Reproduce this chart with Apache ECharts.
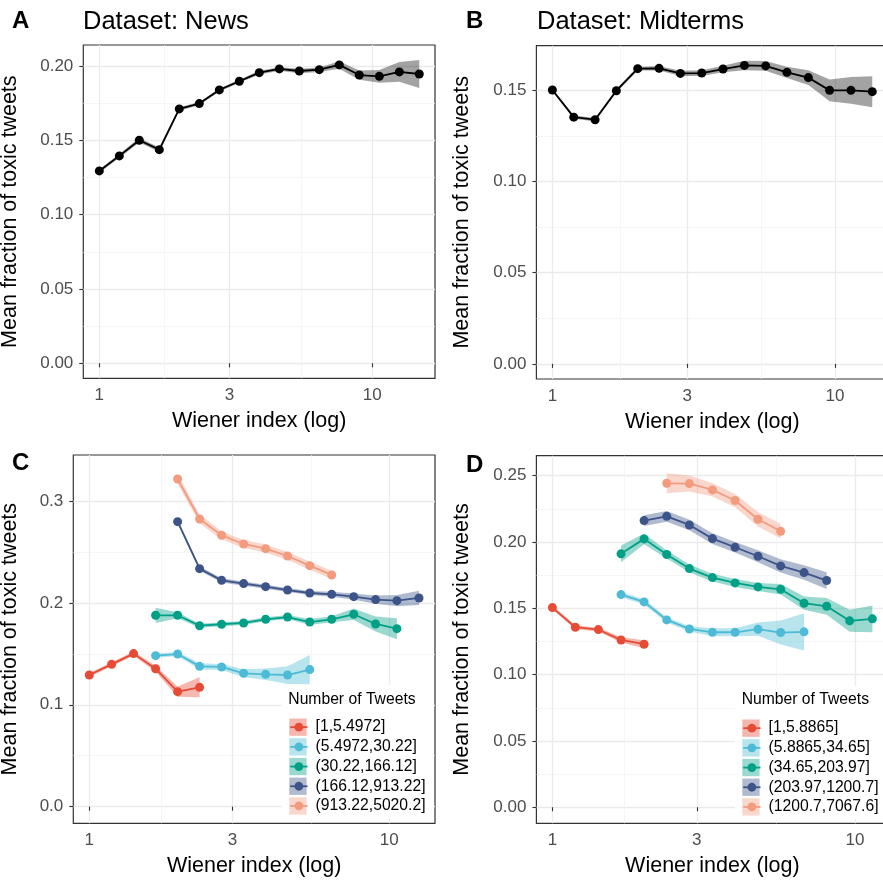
<!DOCTYPE html>
<html><head><meta charset="utf-8">
<script src="https://cdn.jsdelivr.net/npm/echarts@6/dist/echarts.min.js"></script>
<style>html,body{margin:0;padding:0;background:#fff}#c{width:883px;height:882px}</style>
</head><body><div id="c"></div>
<script>
// ---------- DATA ----------
const xTicks = [1, 3, 10];
const xMinor = [1.732, 5.477];

// Panel A: News
const newsX  = [1, 1.184, 1.401, 1.659, 1.963, 2.324, 2.752, 3.258, 3.855, 4.564, 5.403, 6.395, 7.57, 8.96, 10.61, 12.56, 14.86];
const newsY  = [0.1294, 0.1395, 0.1500, 0.1437, 0.1711, 0.1747, 0.1839, 0.1897, 0.1955, 0.1980, 0.1966, 0.1975, 0.2007, 0.1939, 0.1930, 0.1960, 0.1946];
const newsCI = [0.0012, 0.0012, 0.0015, 0.0015, 0.0012, 0.0010, 0.0010, 0.0010, 0.0012, 0.0012, 0.0015, 0.0015, 0.0025, 0.0031, 0.0043, 0.0067, 0.0094];

// Panel B: Midterms
const midX  = [1, 1.190, 1.416, 1.684, 2.004, 2.385, 2.837, 3.376, 4.017, 4.78, 5.684, 6.76, 8.05, 9.57, 11.39, 13.55];
const midY  = [0.1502, 0.1353, 0.1339, 0.1498, 0.1619, 0.1621, 0.1593, 0.1595, 0.1617, 0.1637, 0.1634, 0.1599, 0.1570, 0.1500, 0.1500, 0.1493];
const midCI = [0.0008, 0.0009, 0.0010, 0.0010, 0.0010, 0.0012, 0.0014, 0.0016, 0.0018, 0.0026, 0.0027, 0.0031, 0.0040, 0.0060, 0.0074, 0.0085];

// Panel C: News by number of tweets
const cLabels = ['[1,5.4972]', '(5.4972,30.22]', '(30.22,166.12]', '(166.12,913.22]', '(913.22,5020.2]'];
const c1X = [1, 1.187, 1.405, 1.664, 1.970, 2.332];
const c1Y = [0.1292, 0.1397, 0.1502, 0.1354, 0.1129, 0.1171];
const c1CI = [0.0020, 0.0020, 0.0020, 0.0030, 0.0050, 0.0098];
const c2X = [1.664, 1.970, 2.332, 2.761, 3.269, 3.871, 4.58, 5.43];
const c2Y = [0.1482, 0.1498, 0.1377, 0.1371, 0.1309, 0.1299, 0.1292, 0.1345];
const c2CI = [0.0020, 0.0020, 0.0030, 0.0030, 0.0040, 0.0056, 0.0087, 0.0143];
const c3X = [1.664, 1.970, 2.332, 2.761, 3.269, 3.871, 4.58, 5.43, 6.426, 7.61, 9.0, 10.6];
const c3Y = [0.1878, 0.1878, 0.1776, 0.1790, 0.1803, 0.1839, 0.1861, 0.1812, 0.1839, 0.1888, 0.1793, 0.1747];
const c3CI = [0.0075, 0.0030, 0.0020, 0.0020, 0.0020, 0.0020, 0.0020, 0.0030, 0.0030, 0.0056, 0.0073, 0.0103];
const c4X = [1.970, 2.332, 2.761, 3.269, 3.871, 4.58, 5.43, 6.426, 7.61, 9.0, 10.6, 12.56];
const c4Y = [0.2797, 0.2336, 0.2221, 0.2189, 0.2159, 0.2126, 0.2097, 0.2084, 0.2061, 0.2032, 0.2022, 0.2048];
const c4CI = [0.0020, 0.0020, 0.0020, 0.0020, 0.0020, 0.0020, 0.0020, 0.0025, 0.0030, 0.0040, 0.0055, 0.0070];
const c5X = [1.970, 2.332, 2.761, 3.269, 3.871, 4.58, 5.43, 6.426];
const c5Y = [0.3216, 0.2823, 0.2663, 0.2578, 0.2532, 0.2460, 0.2365, 0.2274];
const c5CI = [0.0050, 0.0045, 0.0040, 0.0040, 0.0040, 0.0040, 0.0040, 0.0040];

// Panel D: Midterms by number of tweets
const dLabels = ['[1,5.8865]', '(5.8865,34.65]', '(34.65,203.97]', '(203.97,1200.7]', '(1200.7,7067.6]'];
const d1X = [1, 1.191, 1.419, 1.686, 2.009];
const d1Y = [0.1505, 0.1357, 0.1339, 0.1261, 0.1229];
const d1CI = [0.0015, 0.0015, 0.0015, 0.0020, 0.0030];
const d2X = [1.686, 2.009, 2.387, 2.836, 3.379, 4.015, 4.78, 5.68, 6.785];
const d2Y = [0.1603, 0.1548, 0.1412, 0.1344, 0.1319, 0.1319, 0.1342, 0.1317, 0.1322];
const d2CI = [0.0020, 0.0020, 0.0020, 0.0020, 0.0030, 0.0030, 0.0050, 0.0090, 0.0140];
const d3X = [1.686, 2.009, 2.387, 2.836, 3.379, 4.015, 4.78, 5.68, 6.785, 8.06, 9.60, 11.41];
const d3Y = [0.1910, 0.2023, 0.1905, 0.1799, 0.1731, 0.1691, 0.1661, 0.1643, 0.1538, 0.1515, 0.1405, 0.1420];
const d3CI = [0.0063, 0.0040, 0.0030, 0.0030, 0.0030, 0.0030, 0.0030, 0.0040, 0.0050, 0.0063, 0.0083, 0.0100];
const d4X = [2.009, 2.387, 2.836, 3.379, 4.015, 4.78, 5.68, 6.785, 8.06];
const d4Y = [0.2161, 0.2193, 0.2128, 0.2025, 0.1960, 0.1892, 0.1819, 0.1769, 0.1709];
const d4CI = [0.0040, 0.0040, 0.0040, 0.0040, 0.0040, 0.0045, 0.0050, 0.0055, 0.0063];
const d5X = [2.387, 2.836, 3.379, 4.015, 4.78, 5.68];
const d5Y = [0.2442, 0.2440, 0.2392, 0.2312, 0.2171, 0.2080];
const d5CI = [0.0075, 0.0060, 0.0050, 0.0050, 0.0055, 0.0055];

const palette = ['#E64B35', '#4DBBD5', '#00A087', '#3C5488', '#F39B7F'];
const paletteFill = ['rgba(230,75,53,0.4)', 'rgba(77,187,213,0.4)', 'rgba(0,160,135,0.4)', 'rgba(60,84,136,0.4)', 'rgba(243,155,127,0.4)'];

// ---------- CHART ----------
const FONT = '"Liberation Sans", Arial, Helvetica, sans-serif';
const chart = echarts.init(document.getElementById('c'), null, {renderer: 'canvas'});

const grids = [
  {left: 83.3, top: 45, width: 351.7, height: 333.3},
  {left: 536.4, top: 45.7, width: 351.9, height: 333.3},
  {left: 73.3, top: 455, width: 361.7, height: 368.3},
  {left: 536.4, top: 455.7, width: 351.9, height: 367.6}
].map(g => Object.assign(g, {show: true, borderColor: '#333333', borderWidth: 1.2, backgroundColor: '#fff', containLabel: false, outerBoundsMode: 'none'}));

const panels = [
  {xmin: 0.8737, xmax: 16.97, ymin: -0.0101, ymax: 0.2141, majors: [0, 0.05, 0.10, 0.15, 0.20], minors: [0.025, 0.075, 0.125, 0.175], dec: 2, yGap: 62},
  {xmin: 0.8778, xmax: 15.44, ymin: -0.0083, ymax: 0.1745, majors: [0, 0.05, 0.10, 0.15], minors: [0.025, 0.075, 0.125], dec: 2, yGap: 63.5},
  {xmin: 0.8846, xmax: 14.2, ymin: -0.0163, ymax: 0.3451, majors: [0, 0.1, 0.2, 0.3], minors: [0.05, 0.15, 0.25], dec: 1, yGap: 52},
  {xmin: 0.8855, xmax: 12.88, ymin: -0.0121, ymax: 0.265, majors: [0, 0.05, 0.10, 0.15, 0.20, 0.25], minors: [0.025, 0.075, 0.125, 0.175, 0.225], dec: 2, yGap: 63.5}
];

const majorLine = {color: '#EBEBEB', width: 1.3};
const minorLine = {color: '#F2F2F2', width: 0.7};
const tickStyle = {color: '#333333', width: 1.1};
const labelStyle = {fontSize: 17, color: '#4D4D4D', fontFamily: FONT};
const nameStyle = {fontSize: 21.5, color: '#000', fontFamily: FONT};

const xAxes = [], yAxes = [];
panels.forEach((p, i) => {
  xAxes.push({
    type: 'log', logBase: 10, gridIndex: i, min: p.xmin, max: p.xmax,
    axisLine: {show: false},
    axisTick: {show: true, length: 4, lineStyle: tickStyle, customValues: xTicks},
    axisLabel: Object.assign({customValues: xTicks, margin: 9, formatter: v => String(Math.round(v))}, labelStyle),
    splitLine: {show: true, lineStyle: majorLine},
    name: 'Wiener index (log)', nameLocation: 'middle', nameGap: 32, nameTextStyle: nameStyle
  });
  xAxes.push({
    type: 'log', logBase: 10, gridIndex: i, min: p.xmin, max: p.xmax, position: 'bottom',
    axisLine: {show: false}, axisTick: {show: false, customValues: xMinor},
    axisLabel: {show: false, customValues: xMinor},
    splitLine: {show: true, lineStyle: minorLine}
  });
  yAxes.push({
    type: 'value', gridIndex: i, min: p.ymin, max: p.ymax,
    axisLine: {show: false},
    axisTick: {show: true, length: 4, lineStyle: tickStyle, customValues: p.majors},
    axisLabel: Object.assign({customValues: p.majors, margin: 10, formatter: v => v.toFixed(p.dec)}, labelStyle),
    splitLine: {show: true, lineStyle: majorLine},
    name: 'Mean fraction of toxic tweets', nameLocation: 'middle', nameGap: p.yGap, nameRotate: 90, nameTextStyle: nameStyle
  });
  yAxes.push({
    type: 'value', gridIndex: i, min: p.ymin, max: p.ymax, position: 'left',
    axisLine: {show: false}, axisTick: {show: false, customValues: p.minors},
    axisLabel: {show: false, customValues: p.minors},
    splitLine: {show: true, lineStyle: minorLine}
  });
});

const series = [];
function addGroup(panel, id, name, xs, ys, ci, color, fill) {
  const ax = {xAxisIndex: panel * 2, yAxisIndex: panel * 2};
  // confidence ribbon: one polygon drawn through the axes' scales
  series.push(Object.assign({
    type: 'custom', id: id + '_band', name: name + ' ', silent: true, z: 1,
    itemStyle: {color: fill},
    encode: {x: 0, y: [1, 2]},
    data: xs.map((x, k) => [x, ys[k] - ci[k], ys[k] + ci[k]]),
    renderItem: function (params, api) {
      if (params.dataIndexInside !== 0) return null;
      const n = params.dataInsideLength;
      const top = [], bot = [];
      for (let k = 0; k < n; k++) {
        const x = api.value(0, k);
        top.push(api.coord([x, api.value(2, k)]));
        bot.push(api.coord([x, api.value(1, k)]));
      }
      return {type: 'polygon', shape: {points: top.concat(bot.reverse())}, style: {fill: fill}};
    }
  }, ax));
  series.push(Object.assign({
    type: 'line', id: id + '_line', name: name, symbol: 'circle', symbolSize: 9, z: 3,
    lineStyle: {color: color, width: 1.8}, itemStyle: {color: color},
    data: xs.map((x, k) => [x, ys[k]])
  }, ax));
}
addGroup(0, 'news', 'News', newsX, newsY, newsCI, '#000000', 'rgba(0,0,0,0.36)');
addGroup(1, 'mid', 'Midterms', midX, midY, midCI, '#000000', 'rgba(0,0,0,0.36)');
const cSets = [[c1X, c1Y, c1CI], [c2X, c2Y, c2CI], [c3X, c3Y, c3CI], [c4X, c4Y, c4CI], [c5X, c5Y, c5CI]];
const dSets = [[d1X, d1Y, d1CI], [d2X, d2Y, d2CI], [d3X, d3Y, d3CI], [d4X, d4Y, d4CI], [d5X, d5Y, d5CI]];
cSets.forEach((s, k) => addGroup(2, 'c' + k, cLabels[k], s[0], s[1], s[2], palette[k], paletteFill[k]));
dSets.forEach((s, k) => addGroup(3, 'd' + k, dLabels[k], s[0], s[1], s[2], palette[k], paletteFill[k]));

function legendPair(labels, boxLeft, boxTop, keyLeft) {
  const padTop = 33.5, rowH = 17.3, gap = 2.4;
  const common = {orient: 'vertical', itemWidth: 17.3, itemHeight: rowH, itemGap: gap, selectedMode: false};
  return [
    Object.assign({}, common, {
      left: boxLeft, top: boxTop, padding: [padTop, 8, 4, keyLeft - boxLeft],
      backgroundColor: '#ffffff', z: 4,
      data: labels.map((l, k) => ({name: l + ' ', icon: 'rect', itemStyle: {color: paletteFill[k], borderWidth: 0}})),
      formatter: n => n.trim(),
      textStyle: {fontSize: 15.7, color: '#000', fontFamily: FONT, lineHeight: rowH, padding: [0, 0, 0, 4]}
    }),
    Object.assign({}, common, {
      left: keyLeft, top: boxTop + padTop, padding: 0, z: 5, itemHeight: 11,
      data: labels.map((l, k) => ({name: l, itemStyle: {color: palette[k]}, lineStyle: {color: palette[k], width: 1.8}})),
      textStyle: {fontSize: 15.7, color: 'rgba(0,0,0,0)', fontFamily: FONT, lineHeight: rowH, padding: [0, 0, 0, 4]}
    })
  ];
}

const legends = legendPair(cLabels, 281.7, 685, 289.3).concat(legendPair(dLabels, 735, 686, 742.3));

function txt(x, y, text, size, bold) {
  return {type: 'text', x: x, y: y, z: 100, style: {text: text, fill: '#000', font: (bold ? 'bold ' : '') + size + 'px ' + FONT, textVerticalAlign: 'middle', verticalAlign: 'middle'}};
}

chart.setOption({
  animation: false,
  backgroundColor: '#ffffff',
  grid: grids,
  xAxis: xAxes,
  yAxis: yAxes,
  series: series,
  legend: legends,
  graphic: [
    txt(12, 21.5, 'A', 24, true),
    txt(83, 21.5, 'Dataset: News', 25.5, false),
    txt(466, 21.5, 'B', 24, true),
    txt(537, 21.5, 'Dataset: Midterms', 25.5, false),
    txt(12, 463.5, 'C', 24, true),
    txt(466, 465, 'D', 24, true),
    txt(288.3, 700, 'Number of Tweets', 15.7, false),
    txt(741.7, 700, 'Number of Tweets', 15.7, false)
  ]
});
</script></body></html>
